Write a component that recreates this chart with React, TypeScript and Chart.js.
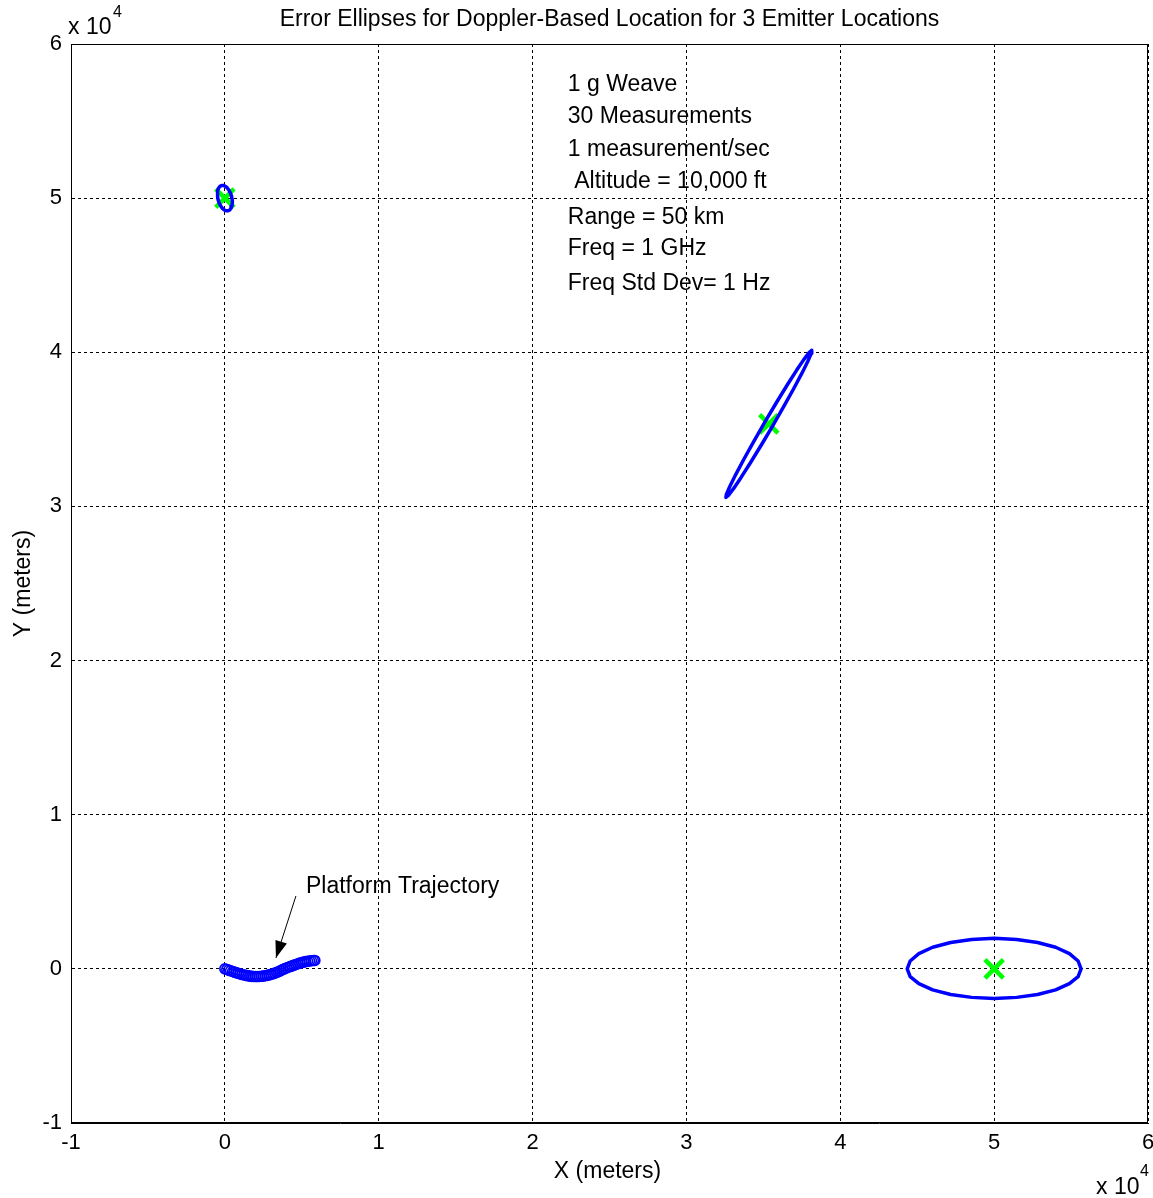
import React, { useEffect, useRef } from "react";
import { Chart, registerables } from "chart.js";

Chart.register(...registerables);

// Axis ticks (meters); labels shown in units of 1e4
const axisMin = -10000;
const axisMax = 60000;
const tickStep = 10000;

// Emitter true locations (meters)
const emitterX = [0, 35355, 50000];
const emitterY = [50000, 35355, 0];

// Error ellipse near emitter 1 (0, 50 km)
const ellipse1X = [-213, -93, 34, 157, 271, 366, 436, 476, 485, 459, 402, 319, 213, 93, -34, -157, -271, -366, -436, -476, -485, -459, -402, -319, -213];
const ellipse1Y = [50823, 50824, 50770, 50662, 50510, 50322, 50113, 49896, 49686, 49498, 49344, 49234, 49177, 49176, 49230, 49338, 49490, 49678, 49887, 50104, 50314, 50502, 50656, 50766, 50823];

// Error ellipse near emitter 2 (35.4 km, 35.4 km)
const ellipse2X = [38145, 37987, 37650, 37157, 36540, 35843, 35113, 34399, 33750, 33211, 32818, 32597, 32565, 32723, 33060, 33553, 34170, 34867, 35597, 36311, 36960, 37499, 37892, 38113, 38145];
const ellipse2Y = [40125, 40000, 39557, 38828, 37863, 36727, 35497, 34257, 33093, 32082, 31295, 30784, 30585, 30710, 31153, 31882, 32847, 33983, 35213, 36453, 37617, 38628, 39415, 39926, 40125];

// Error ellipse near emitter 3 (50 km, 0)
const ellipse3X = [55650, 55458, 54893, 53995, 52825, 51463, 50000, 48537, 47175, 46005, 45107, 44542, 44350, 44542, 45107, 46005, 47175, 48537, 50000, 51463, 52825, 53995, 54893, 55458, 55650];
const ellipse3Y = [0, 510, 990, 1400, 1710, 1910, 1980, 1910, 1710, 1400, 990, 510, 0, -500, -960, -1360, -1660, -1850, -1920, -1850, -1660, -1360, -960, -500, 0];

// Platform trajectory (meters)
const trajX = [0, 125, 250, 375, 500, 625, 750, 875, 1000, 1125, 1250, 1375, 1500, 1625, 1750, 1875, 2000, 2125, 2250, 2375, 2500, 2625, 2750, 2875, 3000, 3125, 3250, 3375, 3500, 3625, 3750, 3875, 4000, 4125, 4250, 4375, 4500, 4625, 4750, 4875, 5000, 5125, 5250, 5375, 5500, 5625, 5750, 5850];
const trajY = [0, -40, -80, -125, -170, -215, -255, -295, -335, -370, -400, -425, -450, -470, -485, -495, -500, -500, -495, -482, -465, -445, -420, -392, -360, -322, -280, -230, -175, -115, -50, 5, 60, 105, 150, 195, 240, 285, 330, 370, 410, 440, 470, 490, 510, 525, 540, 545];

const infoLines = [
  "1 g Weave",
  "30 Measurements",
  "1 measurement/sec",
  " Altitude = 10,000 ft",
  "Range = 50 km",
  "Freq = 1 GHz",
  "Freq Std Dev= 1 Hz",
];

const titleText = "Error Ellipses for Doppler-Based Location for 3 Emitter Locations";
const xLabel = "X (meters)";
const yLabel = "Y (meters)";
const annotationText = "Platform Trajectory";

const FONT = '"Liberation Sans", Arial, Helvetica, sans-serif';
const BLUE = "#0000ff";
const GREEN = "#00ff00";

const toPts = (xs: number[], ys: number[]) => xs.map((x, i) => ({ x, y: ys[i] }));

const decorPlugin = {
  id: "decor",
  afterDatasetsDraw(chart: any) {
    const { ctx, chartArea, scales } = chart;
    const xs = scales.x;
    const ys = scales.y;
    ctx.save();
    // box
    ctx.strokeStyle = "#000";
    ctx.lineWidth = 1;
    ctx.setLineDash([]);
    ctx.strokeRect(
      Math.round(chartArea.left) + 0.5,
      Math.round(chartArea.top) + 0.5,
      Math.round(chartArea.right - chartArea.left) - 1,
      Math.round(chartArea.bottom - chartArea.top) - 1
    );

    ctx.fillStyle = "#000";
    // title
    ctx.font = `23px ${FONT}`;
    ctx.textAlign = "center";
    ctx.textBaseline = "middle";
    ctx.fillText(titleText, (chartArea.left + chartArea.right) / 2, 20);

    // axis labels
    ctx.fillText(xLabel, (chartArea.left + chartArea.right) / 2 - 2, 1172);
    ctx.save();
    ctx.translate(24, (chartArea.top + chartArea.bottom) / 2);
    ctx.rotate(-Math.PI / 2);
    ctx.fillText(yLabel, 0, 0);
    ctx.restore();

    // x 10^4 exponent labels
    ctx.textAlign = "left";
    ctx.textBaseline = "alphabetic";
    ctx.font = `23px ${FONT}`;
    ctx.fillText("x 10", 68, 34);
    ctx.fillText("x 10", 1096, 1194);
    ctx.font = `16px ${FONT}`;
    ctx.fillText("4", 113, 17);
    ctx.fillText("4", 1140, 1176);

    // info text block
    ctx.font = `23px ${FONT}`;
    ctx.textBaseline = "middle";
    const infoYs = [57360, 55280, 53140, 51060, 48730, 46710, 44440];
    infoLines.forEach((t, i) => {
      ctx.fillText(t, xs.getPixelForValue(22290), ys.getPixelForValue(infoYs[i]));
    });

    // annotation
    ctx.fillText(annotationText, xs.getPixelForValue(5270), ys.getPixelForValue(5330));
    const x1 = xs.getPixelForValue(4620);
    const y1 = ys.getPixelForValue(4730);
    const x2 = xs.getPixelForValue(3320);
    const y2 = ys.getPixelForValue(710);
    ctx.strokeStyle = "#000";
    ctx.lineWidth = 1;
    ctx.beginPath();
    ctx.moveTo(x1, y1);
    ctx.lineTo(x2, y2);
    ctx.stroke();
    const ang = Math.atan2(y2 - y1, x2 - x1);
    const L = 17;
    const W = 6;
    ctx.beginPath();
    ctx.moveTo(x2, y2);
    ctx.lineTo(x2 - L * Math.cos(ang) + W * Math.sin(ang), y2 - L * Math.sin(ang) - W * Math.cos(ang));
    ctx.lineTo(x2 - L * Math.cos(ang) - W * Math.sin(ang), y2 - L * Math.sin(ang) + W * Math.cos(ang));
    ctx.closePath();
    ctx.fill();
    ctx.restore();
  },
};

export default function App() {
  const ref = useRef<HTMLCanvasElement | null>(null);
  useEffect(() => {
    if (!ref.current) return;
    const ellipseDs = (xs: number[], ys: number[]) => ({
      type: "line" as const,
      data: toPts(xs, ys),
      borderColor: BLUE,
      borderWidth: 3.5,
      borderJoinStyle: "round",
      borderCapStyle: "round",
      pointRadius: 0,
      showLine: true,
      fill: false,
      tension: 0,
      order: 1,
    });
    const chart = new Chart(ref.current, {
      type: "scatter",
      data: {
        datasets: [
          ellipseDs(ellipse1X, ellipse1Y),
          ellipseDs(ellipse2X, ellipse2Y),
          ellipseDs(ellipse3X, ellipse3Y),
          {
            data: toPts(trajX, trajY),
            borderColor: BLUE,
            backgroundColor: "rgba(0,0,0,0)",
            pointStyle: "circle",
            pointRadius: 5,
            borderWidth: 1.6,
            showLine: false,
            order: 2,
          } as any,
          {
            data: toPts(emitterX, emitterY),
            borderColor: GREEN,
            backgroundColor: GREEN,
            pointStyle: "crossRot",
            pointRadius: 13,
            borderWidth: 4.5,
            showLine: false,
            order: 3,
          } as any,
        ],
      },
      options: {
        animation: false,
        responsive: false,
        maintainAspectRatio: false,
        layout: { autoPadding: false, padding: { top: 44, right: 5, left: 0, bottom: 0 } },
        plugins: {
          legend: { display: false },
          tooltip: { enabled: false },
          title: { display: false },
        },
        scales: {
          x: {
            type: "linear",
            min: axisMin,
            max: axisMax,
            afterFit: (s: any) => {
              s.height = 75;
              s.paddingLeft = 0;
              s.paddingRight = 0;
            },
            ticks: {
              stepSize: tickStep,
              padding: 7,
              color: "#000",
              font: { family: FONT, size: 22 },
              callback: (v: any) => String(Number(v) / 10000),
              maxRotation: 0,
            },
            grid: { color: "#000", lineWidth: 1, drawTicks: false },
            border: { display: true, color: "#000", dash: [3, 3] },
          },
          y: {
            type: "linear",
            min: axisMin,
            max: axisMax,
            afterFit: (s: any) => {
              s.width = 71;
              s.paddingTop = 0;
              s.paddingBottom = 0;
            },
            ticks: {
              stepSize: tickStep,
              padding: 9,
              color: "#000",
              font: { family: FONT, size: 22 },
              callback: (v: any) => String(Number(v) / 10000),
            },
            grid: { color: "#000", lineWidth: 1, drawTicks: false },
            border: { display: true, color: "#000", dash: [3, 3] },
          },
        },
      },
      plugins: [decorPlugin],
    } as any);
    return () => chart.destroy();
  }, []);
  return (
    <div style={{ position: "fixed", left: 0, top: 0, width: 1153, height: 1198, background: "#fff" }}>
      <canvas ref={ref} width={1153} height={1198} style={{ width: 1153, height: 1198, display: "block" }} />
    </div>
  );
}
